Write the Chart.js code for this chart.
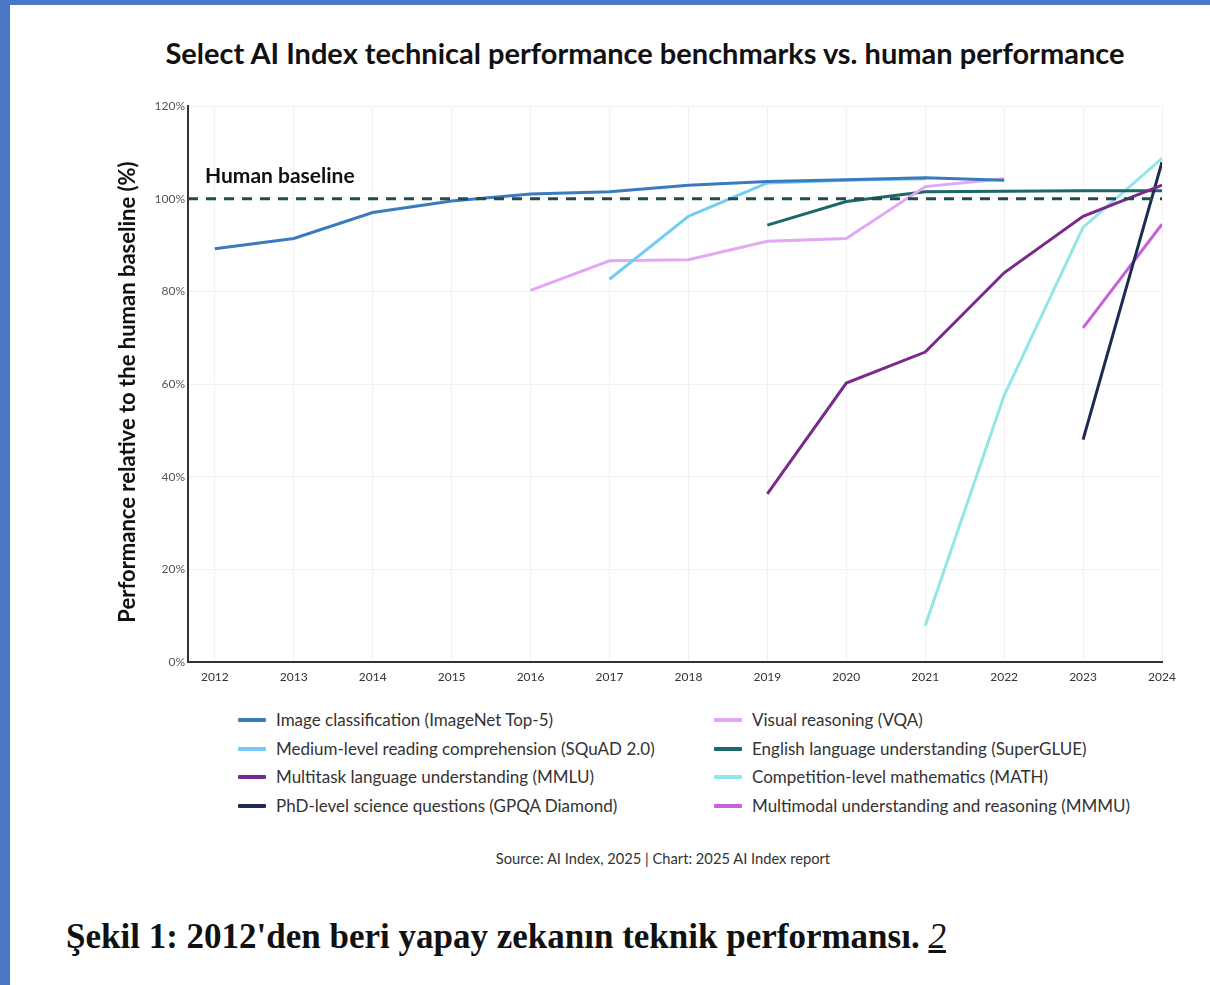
<!DOCTYPE html>
<html>
<head>
<meta charset="utf-8">
<script src="https://cdn.jsdelivr.net/npm/chart.js@4.4.1/dist/chart.umd.min.js"></script>
<style>
  html, body { margin: 0; padding: 0; background: #fff; }
  body { width: 1210px; height: 985px; position: relative; overflow: hidden; font-family: Lato, sans-serif; }
  .frameTop { position: absolute; left: 0; top: 0; width: 1210px; height: 5px; background: #4a78c9; }
  .frameLeft { position: absolute; left: 0; top: 0; width: 10px; height: 985px; background: #4a78c9; }
  #title { position: absolute; left: 0; width: 1290px; top: 35px; line-height: 36px; text-align: center; font-size: 29px; font-weight: bold; color: #111; white-space: nowrap; }
  #wrap { position: absolute; left: 0; top: 0; width: 1210px; height: 700px; }
  #legend { position: absolute; left: 238px; top: 710px; width: 960px; }
  .item { position: absolute; display: flex; align-items: center; font-size: 17px; line-height: 20px; color: #333; white-space: nowrap; }
  .item span.sw { display: inline-block; width: 28px; height: 4px; margin-right: 10px; border-radius: 1px; }
  #source { position: absolute; left: 0; width: 1326px; top: 849px; text-align: center; font-size: 14.7px; color: #333; }
  #caption { position: absolute; left: 66px; top: 917px; font-family: "Liberation Serif", serif; font-weight: bold; font-size: 35px; color: #111; white-space: nowrap; }
  #caption a { font-weight: normal; font-style: italic; text-decoration: underline; color: #111; }
</style>
</head>
<body>
<div class="frameTop"></div>
<div class="frameLeft"></div>
<div id="title">Select AI Index technical performance benchmarks vs. human performance</div>
<div id="wrap"><canvas id="chart" width="1210" height="700"></canvas></div>
<div id="legend"></div>
<div id="source">Source: AI Index, 2025 | Chart: 2025 AI Index report</div>
<div id="caption">Şekil 1: 2012'den beri yapay zekanın teknik performansı. <a>2</a></div>

<script>
// values, % of human baseline, null = no result that year
const years = [2012, 2013, 2014, 2015, 2016, 2017, 2018, 2019, 2020, 2021, 2022, 2023, 2024];

const imagenet  = [89.2, 91.4, 97.0, 99.5, 101.0, 101.5, 102.9, 103.7, 104.1, 104.5, 104.0, null, null];
const squad     = [null, null, null, null, null, 82.6, 96.2, 103.4, 104.0, 104.3, null, null, null];
const mmlu      = [null, null, null, null, null, null, null, 36.3, 60.2, 66.9, 84.0, 96.2, 102.9];
const gpqa      = [null, null, null, null, null, null, null, null, null, null, null, 48.0, 107.9];
const vqa       = [null, null, null, null, 80.2, 86.6, 86.8, 90.8, 91.4, 102.6, 104.3, null, null];
const superglue = [null, null, null, null, null, null, null, 94.3, 99.4, 101.5, 101.6, 101.7, 101.7];
const math      = [null, null, null, null, null, null, null, null, null, 7.8, 57.5, 93.8, 108.7];
const mmmu      = [null, null, null, null, null, null, null, null, null, null, null, 72.1, 94.5];

const labels = [
  "Image classification (ImageNet Top-5)",
  "Medium-level reading comprehension (SQuAD 2.0)",
  "Multitask language understanding (MMLU)",
  "PhD-level science questions (GPQA Diamond)",
  "Visual reasoning (VQA)",
  "English language understanding (SuperGLUE)",
  "Competition-level mathematics (MATH)",
  "Multimodal understanding and reasoning (MMMU)"
];
const series = [imagenet, squad, mmlu, gpqa, vqa, superglue, math, mmmu];
const colors = ["#3a7bbf", "#74ccf2", "#7a2a8c", "#1d2a52", "#e3a7f4", "#1c6767", "#93e5ea", "#c562d8"];

const baseline = 100;
const yTicks = [0, 20, 40, 60, 80, 100, 120];
const yTitle = "Performance relative to the human baseline (%)";

Chart.defaults.font.family = "Lato, sans-serif";

function points(vals){
  const out = [];
  vals.forEach((v, i) => { if(v !== null) out.push({ x: years[i], y: v }); });
  return out;
}

const datasets = series.map((s, i) => ({
  label: labels[i],
  data: points(s),
  borderColor: colors[i],
  backgroundColor: colors[i],
  borderWidth: 3,
  pointRadius: 0,
  tension: 0,
  order: 2
}));

// dashed human baseline across the whole plot
datasets.push({
  label: "Human baseline",
  data: [{ x: 2011.66, y: baseline }, { x: 2024, y: baseline }],
  borderColor: "#234a4c",
  borderWidth: 3,
  borderDash: [10, 8],
  pointRadius: 0,
  order: 1
});

// "Human baseline" text and the rotated y title
const extraText = {
  id: "extraText",
  afterDraw(chart){
    const { ctx, chartArea, scales } = chart;
    const y = scales.y.getPixelForValue(baseline);
    ctx.save();
    ctx.font = "bold 21px Lato, sans-serif";
    ctx.fillStyle = "#111";
    ctx.textBaseline = "middle";
    ctx.fillText("Human baseline", chartArea.left + 17, y - 22);

    ctx.translate(128, 392);
    ctx.rotate(-Math.PI / 2);
    ctx.textAlign = "center";
    ctx.font = "bold 22px Lato, sans-serif";
    ctx.fillText(yTitle, 0, 0);
    ctx.restore();
  }
};

new Chart(document.getElementById("chart"), {
  type: "line",
  data: { datasets },
  plugins: [extraText],
  options: {
    responsive: false,
    animation: false,
    layout: { padding: { left: 0, right: 48, top: 106, bottom: 0 } },
    plugins: {
      legend: { display: false },
      tooltip: { enabled: false },
      title: { display: false }
    },
    scales: {
      x: {
        type: "linear",
        min: 2011.66,
        max: 2024,
        afterBuildTicks: axis => { axis.ticks = years.map(v => ({ value: v })); },
        afterFit: scale => { scale.height = 38; },
        ticks: {
          padding: 8,
          color: "#333",
          font: { size: 12 },
          maxRotation: 0,
          callback: v => String(v)
        },
        grid: { color: "#f1f1f1", drawTicks: false },
        border: { color: "#333", width: 2 }
      },
      y: {
        min: 0,
        max: 120,
        afterBuildTicks: axis => { axis.ticks = yTicks.map(v => ({ value: v })); },
        afterFit: scale => { scale.width = 188; },
        ticks: {
          padding: 3,
          color: "#555",
          font: { size: 12 },
          callback: v => v + "%"
        },
        grid: { color: "#f1f1f1", drawTicks: false },
        border: { color: "#333", width: 2 }
      }
    }
  }
});

// legend in two columns, same order as the reference
const legend = document.getElementById("legend");
labels.forEach((l, i) => {
  const col = i < 4 ? 0 : 1;
  const row = i % 4;
  const d = document.createElement("div");
  d.className = "item";
  d.style.left = (col * 476) + "px";
  d.style.top = (row * 28.5) + "px";
  d.innerHTML = `<span class="sw" style="background:${colors[i]}"></span>${l}`;
  legend.appendChild(d);
});
</script>
</body>
</html>
